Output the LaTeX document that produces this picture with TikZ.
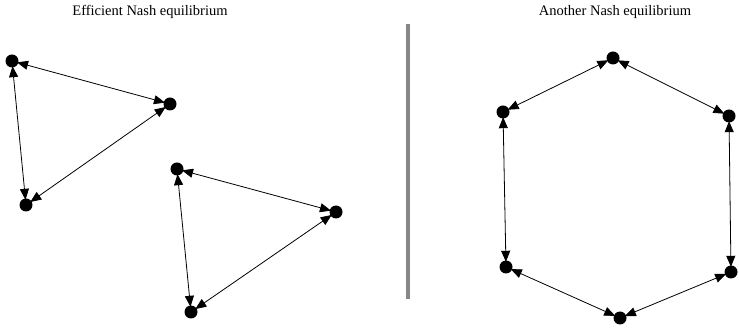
\documentclass[tikz,border=0pt]{standalone}
\usepackage{fontspec}
\setmainfont{Liberation Serif}
\usetikzlibrary{arrows.meta}
\begin{document}
\begin{tikzpicture}[x=1pt,y=-1pt,
  dot/.style={circle,fill=black,inner sep=0pt,minimum size=13pt},
  link/.style={line width=0.8pt,shorten <=-1.5pt,shorten >=-1.5pt,{Triangle[length=11pt,width=9pt]}-{Triangle[length=11pt,width=9pt]}},
  title/.style={font=\fontsize{14.5}{17}\selectfont,inner sep=0pt,anchor=base}]
\useasboundingbox (0,0) rectangle (739,328);
\node[title] (t1) at (150,15.5) {Efficient Nash equilibrium};
\node[title] (t2) at (615,15.5) {Another Nash equilibrium};
\draw[line width=3.5pt,color=black!47] (408,24) -- (408,299);
% triangle 1
\node[dot] (a) at (12,61) {};
\node[dot] (b) at (170,104) {};
\node[dot] (c) at (26,205) {};
% triangle 2
\node[dot] (d) at (177,169) {};
\node[dot] (e) at (336,212) {};
\node[dot] (f) at (191,312) {};
% hexagon
\node[dot] (h1) at (613,58) {};
\node[dot] (h2) at (729,116) {};
\node[dot] (h3) at (731,272) {};
\node[dot] (h4) at (620,318) {};
\node[dot] (h5) at (506,267) {};
\node[dot] (h6) at (503,112) {};
\draw[link] (a) -- (b);
\draw[link] (a) -- (c);
\draw[link] (c) -- (b);
\draw[link] (d) -- (e);
\draw[link] (d) -- (f);
\draw[link] (f) -- (e);
\draw[link] (h1) -- (h2);
\draw[link] (h2) -- (h3);
\draw[link] (h3) -- (h4);
\draw[link] (h4) -- (h5);
\draw[link] (h5) -- (h6);
\draw[link] (h6) -- (h1);
\end{tikzpicture}
\end{document}
